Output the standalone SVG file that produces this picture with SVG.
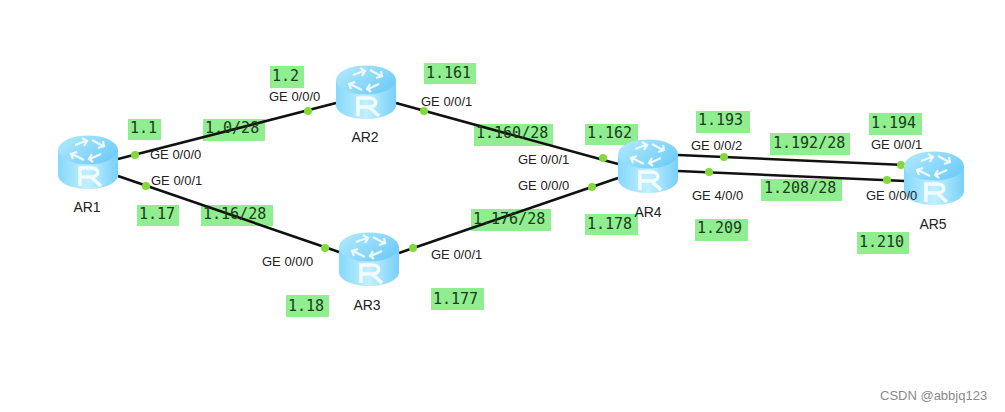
<svg xmlns="http://www.w3.org/2000/svg" width="1005" height="412" viewBox="0 0 1005 412">
<style>
.bg{fill:#90ee90;stroke:none}
.ip{font:15px "DejaVu Sans Mono","Liberation Mono",monospace;fill:#1c3a1c}
.port,.name{font:13px "Liberation Sans",Arial,sans-serif;fill:#222}
.name{text-anchor:middle;font-size:14px}
.link{stroke:#111;stroke-width:2.6;fill:none}
.dot{fill:#84d93a}
.wm{font:13px "Liberation Sans",Arial,sans-serif;fill:#8a8a8a}
</style>
<defs>
<linearGradient id="body" x1="0" x2="1" y1="0" y2="0"><stop offset="0" stop-color="#86d8fb"/><stop offset="0.5" stop-color="#c2f0ff"/><stop offset="1" stop-color="#78d0f9"/></linearGradient>
<linearGradient id="top" x1="0" x2="1" y1="0" y2="0.6"><stop offset="0" stop-color="#b4eafd"/><stop offset="1" stop-color="#72cdf8"/></linearGradient>
<g id="router">
<path d="M0 14V39C0 47 13.500 53 30 53S60 47 60 39V14Z" fill="url(#body)"/>
<ellipse cx="30" cy="14" rx="30" ry="14.500" fill="url(#top)"/>
<g fill="none" stroke="#eefaff" stroke-width="2.200">
<path d="M17 9L28 5M24 2L29 5L26 10"/><path d="M34 4L45 10M45 5L46 10L40 12"/><path d="M43 18L32 23M35 26L31 23L34 18"/><path d="M26 24L14 18M15 23L13 18L19 16"/>
</g>
<path d="M22 50V32H33C42 32 42 41 33 41H22M33 41L43 50" fill="none" stroke="#f2fbff" stroke-width="3.600"/>
</g>
</defs>
<rect width="1005" height="412" fill="#fff"/>
<g id="label-backgrounds">
<rect class="bg" x="270" y="66" width="34" height="22"/>
<rect class="bg" x="128" y="119" width="33" height="21"/>
<rect class="bg" x="203" y="119" width="62" height="22"/>
<rect class="bg" x="137" y="205" width="42" height="21"/>
<rect class="bg" x="201" y="205" width="72" height="21"/>
<rect class="bg" x="424" y="63" width="52" height="21"/>
<rect class="bg" x="474" y="124" width="79" height="22"/>
<rect class="bg" x="471" y="209" width="80" height="22"/>
<rect class="bg" x="431" y="288" width="53" height="22"/>
<rect class="bg" x="286" y="295" width="43" height="22"/>
<rect class="bg" x="585" y="124" width="53" height="21"/>
<rect class="bg" x="585" y="214" width="53" height="21"/>
<rect class="bg" x="696" y="111" width="54" height="22"/>
<rect class="bg" x="695" y="219" width="53" height="22"/>
<rect class="bg" x="770" y="133" width="80" height="22"/>
<rect class="bg" x="761" y="179" width="81" height="22"/>
<rect class="bg" x="869" y="113" width="53" height="22"/>
<rect class="bg" x="857" y="232" width="52" height="22"/>
</g>
<g id="connectors">
<path class="link" d="M118 159L336 103"/>
<path class="link" d="M118 176L339 252"/>
<path class="link" d="M396 103L618 164"/>
<path class="link" d="M399 253L618 178"/>
<path class="link" d="M678 155L905 165"/>
<path class="link" d="M678 171L905 181"/>
<circle class="dot" cx="135" cy="155" r="4"/>
<circle class="dot" cx="308" cy="111" r="4"/>
<circle class="dot" cx="146" cy="186" r="4"/>
<circle class="dot" cx="325" cy="248" r="4"/>
<circle class="dot" cx="424" cy="111" r="4"/>
<circle class="dot" cx="603" cy="158" r="4"/>
<circle class="dot" cx="413" cy="248" r="4"/>
<circle class="dot" cx="592" cy="187" r="4"/>
<circle class="dot" cx="724" cy="157" r="4"/>
<circle class="dot" cx="901" cy="165" r="4"/>
<circle class="dot" cx="709" cy="172" r="4"/>
<circle class="dot" cx="887" cy="180" r="4"/>
</g>
<g id="AR1"><use href="#router" x="58" y="136"/><text class="name" x="87" y="212">AR1</text></g>
<g id="AR2"><use href="#router" x="336" y="66"/><text class="name" x="365" y="142">AR2</text></g>
<g id="AR3"><use href="#router" x="339" y="233"/><text class="name" x="367" y="310">AR3</text></g>
<g id="AR4"><use href="#router" x="618" y="140"/><text class="name" x="648" y="217">AR4</text></g>
<g id="AR5"><use href="#router" x="904" y="152"/><text class="name" x="933" y="229">AR5</text></g>
<g id="port-labels">
<text class="port" x="150" y="159">GE 0/0/0</text>
<text class="port" x="151" y="185">GE 0/0/1</text>
<text class="port" x="269" y="101">GE 0/0/0</text>
<text class="port" x="421" y="106">GE 0/0/1</text>
<text class="port" x="262" y="266">GE 0/0/0</text>
<text class="port" x="431" y="259">GE 0/0/1</text>
<text class="port" x="518" y="164">GE 0/0/1</text>
<text class="port" x="518" y="190">GE 0/0/0</text>
<text class="port" x="691" y="150">GE 0/0/2</text>
<text class="port" x="692" y="200">GE 4/0/0</text>
<text class="port" x="871" y="149">GE 0/0/1</text>
<text class="port" x="866" y="200">GE 0/0/0</text>
</g>
<g id="ip-labels">
<text class="ip" x="272" y="81">1.2</text>
<text class="ip" x="130" y="133">1.1</text>
<text class="ip" x="205" y="133">1.0/28</text>
<text class="ip" x="139" y="219">1.17</text>
<text class="ip" x="203" y="219">1.16/28</text>
<text class="ip" x="426" y="78">1.161</text>
<text class="ip" x="476" y="138">1.160/28</text>
<text class="ip" x="473" y="224">1.176/28</text>
<text class="ip" x="433" y="304">1.177</text>
<text class="ip" x="288" y="311">1.18</text>
<text class="ip" x="587" y="138">1.162</text>
<text class="ip" x="587" y="229">1.178</text>
<text class="ip" x="698" y="125">1.193</text>
<text class="ip" x="697" y="233">1.209</text>
<text class="ip" x="773" y="148">1.192/28</text>
<text class="ip" x="764" y="193">1.208/28</text>
<text class="ip" x="871" y="128">1.194</text>
<text class="ip" x="859" y="247">1.210</text>
</g>
<text class="wm" x="880" y="400">CSDN @abbjq123</text>
</svg>
